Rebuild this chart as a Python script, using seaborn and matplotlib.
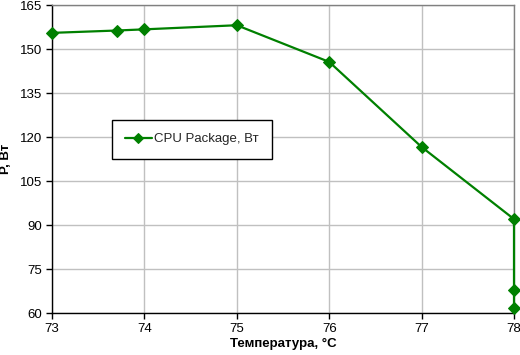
import matplotlib
matplotlib.use("Agg")
import matplotlib.pyplot as plt
import seaborn as sns
import pandas as pd

temps = [73.0, 73.7, 74.0, 75.0, 76.0, 77.0, 78.0, 78.0, 78.0]
power = [155.5, 156.3, 156.7, 158.1, 145.6, 116.6, 92.0, 67.7, 61.6]
series_name = "CPU Package, Вт"
x_ticks = [73, 74, 75, 76, 77, 78]
y_ticks = [60, 75, 90, 105, 120, 135, 150, 165]

df = pd.DataFrame({"t": temps, "p": power, "s": series_name})

sns.set_theme(style="white")
plt.rcParams["font.family"] = ["Liberation Sans", "DejaVu Sans"]

fig = plt.figure(figsize=(5.2, 3.55), dpi=100)
ax = fig.add_axes([52/520, 42/355, 462/520, 308/355])

green = "#008000"
sns.lineplot(data=df, x="t", y="p", hue="s", palette=[green], sort=False,
             estimator=None, marker="D", markersize=6, linewidth=1.6,
             markeredgecolor=green, ax=ax)
for ln in ax.get_lines():
    ln.set_clip_on(False)
    ln.set_zorder(5)

ax.set_xlim(73, 78)
ax.set_ylim(60, 165)
ax.set_xticks(x_ticks)
ax.set_yticks(y_ticks)
ax.grid(True, color="#c0c0c0", linewidth=1)
ax.set_axisbelow(True)
for side in ["top", "right"]:
    ax.spines[side].set_color("#808080")
    ax.spines[side].set_linewidth(1)
for side in ["left", "bottom"]:
    ax.spines[side].set_color("black")
    ax.spines[side].set_linewidth(1)
ax.tick_params(axis="both", which="both", length=4, width=1, color="black",
               labelsize=9.5, direction="out", left=True, bottom=True, pad=3,
               labelcolor="black")
ax.set_xlabel("Температура, °C", fontsize=9.5, fontweight="bold", labelpad=2,
              color="black")
ax.set_ylabel("P, Вт", fontsize=9.5, fontweight="bold", labelpad=6, color="black")

leg = ax.legend(loc="upper left", bbox_to_anchor=((112-52)/462, (355-120-42)/308),
                frameon=True, fancybox=False, fontsize=9.5, handlelength=2.0,
                handletextpad=0.2, borderpad=1.0, borderaxespad=0,
                edgecolor="black", markerscale=0.8)
leg.get_frame().set_linewidth(1)
leg.get_frame().set_alpha(1)

fig.savefig("out.png", dpi=100, facecolor="white")
